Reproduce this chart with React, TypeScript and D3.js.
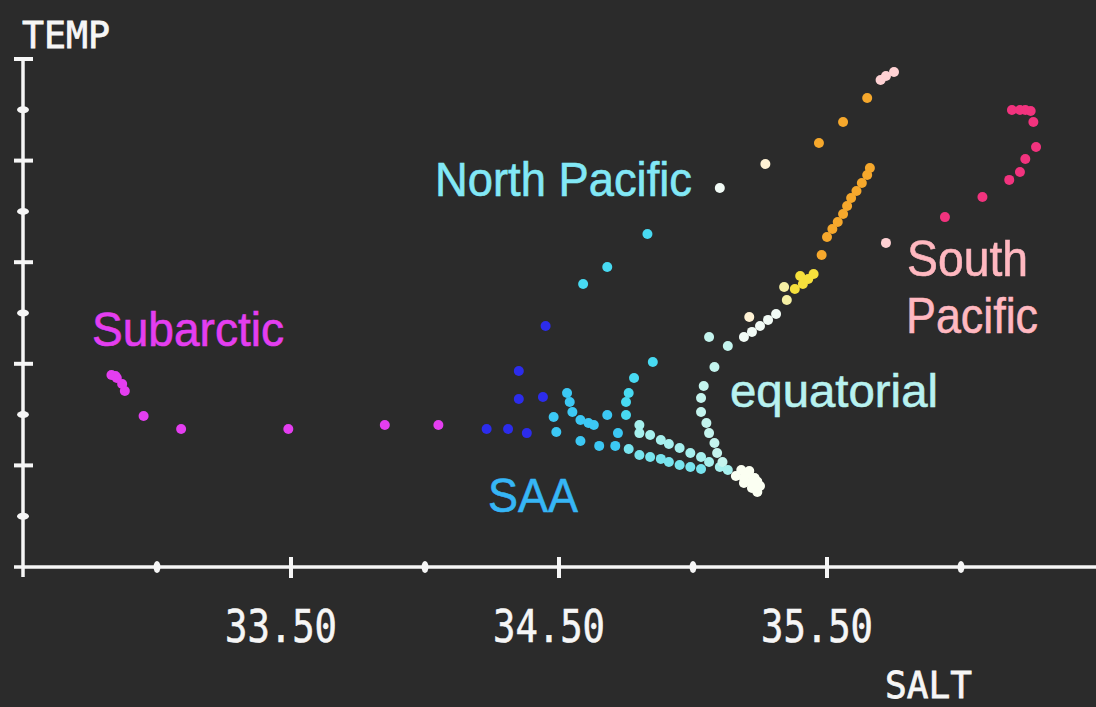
import React from 'react';
import * as d3 from 'd3';

const W = 1096;
const H = 707;

// axis ticks (salinity, temperature)
const saltMajor = [33.5, 34.5, 35.5];
const saltMinor = [33.0, 34.0, 35.0, 36.0];
const saltLabels = ['33.50', '34.50', '35.50'];
const tempMajor = [5, 10, 15, 20, 25];
const tempMinor = [2.5, 7.5, 12.5, 17.5, 22.5];

type P = [number, number]; // [salt, temp]

const subarctic: P[] = [
  [32.83, 9.45], [32.845, 9.4], [32.85, 9.3], [32.87, 9.01], [32.88, 8.66], [32.95, 7.43],
  [33.09, 6.79], [33.49, 6.79], [33.85, 6.99], [34.05, 6.99],
];
const deepBlue: P[] = [
  [34.23, 6.79], [34.31, 6.79], [34.38, 6.59], [34.35, 8.27], [34.44, 8.37],
  [34.35, 9.65], [34.45, 11.86],
];
const saa: P[] = [
  [34.48, 7.38], [34.49, 6.64], [34.53, 8.56], [34.54, 8.12], [34.55, 7.63],
  [34.58, 7.23], [34.61, 7.09], [34.63, 6.99], [34.68, 7.48], [34.58, 6.2],
  [34.65, 5.96], [34.71, 5.96], [34.72, 6.59],
];
const northPacific: P[] = [
  [34.75, 7.48], [34.75, 8.12], [34.76, 8.56], [34.78, 9.3], [34.85, 10.09],
  [34.59, 13.93], [34.68, 14.76], [34.83, 16.39],
];
const lowerPath: P[] = [
  [34.76, 5.81], [34.8, 5.51], [34.84, 5.41], [34.88, 5.32], [34.91, 5.17],
  [34.95, 5.02], [34.99, 4.92], [35.03, 4.82],
];
const brightPath: P[] = [
  [34.8, 6.99], [34.8, 6.59], [34.84, 6.5], [34.88, 6.25], [34.91, 6.05],
  [34.95, 5.86], [34.99, 5.61], [35.03, 5.41], [35.06, 5.17], [35.1, 4.92],
  [35.13, 4.77],
];
const equatorial: P[] = [
  [35.06, 11.32], [35.13, 10.88], [35.08, 9.84], [35.04, 8.91], [35.03, 8.32],
  [35.03, 7.63], [35.05, 7.09], [35.06, 6.59], [35.08, 6.1], [35.09, 5.61],
  [35.11, 5.17],
];
const deepCore: P[] = [
  [35.16, 4.48], [35.18, 4.77], [35.21, 4.72], [35.23, 4.38], [35.25, 3.99],
  [35.22, 3.89], [35.19, 4.13], [35.24, 3.69], [35.19, 4.38], [35.22, 4.18],
  [35.2, 4.55], [35.24, 4.2],
];
const whiteUpper: P[] = [
  [35.19, 11.32], [35.22, 11.57], [35.25, 11.86], [35.28, 12.16], [35.31, 12.45],
  [35.1, 18.65],
];
const cream: P[] = [[35.21, 12.3], [35.27, 19.83]];
const paleYellow: P[] = [[35.34, 13.78], [35.35, 13.14]];
const yellow: P[] = [
  [35.4, 14.32], [35.38, 13.68], [35.41, 13.93], [35.43, 14.17], [35.45, 14.42],
];
const orange: P[] = [
  [35.48, 15.35], [35.5, 16.24], [35.52, 16.63], [35.54, 16.98], [35.56, 17.37],
  [35.575, 17.77], [35.59, 18.16], [35.61, 18.5], [35.63, 18.9], [35.65, 19.29],
  [35.66, 19.64], [35.47, 20.87], [35.56, 21.9], [35.65, 23.08],
];
const surfacePale: P[] = [[35.7, 23.97], [35.72, 24.16], [35.75, 24.36], [35.72, 15.95]];
const southPacific: P[] = [
  [36.19, 22.49], [36.22, 22.49], [36.24, 22.49], [36.26, 22.44], [36.27, 21.9],
  [36.28, 20.67], [36.24, 20.08], [36.22, 19.44], [36.18, 19.05], [36.08, 18.21],
  [35.94, 17.22],
];

const groups: { data: P[]; color: string }[] = [
  { data: subarctic, color: '#e43ef0' },
  { data: deepBlue, color: '#2c2cec' },
  { data: saa, color: '#3cc8f4' },
  { data: northPacific, color: '#48daf2' },
  { data: lowerPath, color: '#78e4ee' },
  { data: brightPath, color: '#a6f0ee' },
  { data: equatorial, color: '#c4f4ee' },
  { data: deepCore, color: '#fbfff2' },
  { data: whiteUpper, color: '#f2fbf6' },
  { data: cream, color: '#fff2d4' },
  { data: paleYellow, color: '#f6f0a4' },
  { data: yellow, color: '#f6e03c' },
  { data: orange, color: '#f6a82c' },
  { data: surfacePale, color: '#ffd2d4' },
  { data: southPacific, color: '#f2337e' },
];

const x = d3.scaleLinear().domain([32.5, 36.5]).range([23, 1095]);
const y = d3.scaleLinear().domain([0, 25]).range([567, 59]);

const mono = "'DejaVu Sans Mono', monospace";
const sans = "'Liberation Sans', Arial, sans-serif";
const AX = '#f6f6f6';

export default function App() {
  const x0 = x(32.5);
  const y0 = y(0);
  return (
    <svg
      width={W}
      height={H}
      style={{ position: 'absolute', left: 0, top: 0, background: '#2b2b2b', display: 'block' }}
    >
      <rect x={0} y={0} width={W} height={H} fill="#2b2b2b" />
      {/* axes */}
      <line x1={x0} x2={x0} y1={y(25)} y2={y0 + 10} stroke={AX} strokeWidth={3.5} />
      <line x1={x0 - 9} x2={W} y1={y0} y2={y0} stroke={AX} strokeWidth={3.5} />
      {tempMajor.map((t) => (
        <line key={'tm' + t} x1={x0 - 9} x2={x0 + 10} y1={y(t)} y2={y(t)} stroke={AX} strokeWidth={4} />
      ))}
      {tempMinor.map((t) => (
        <ellipse key={'tn' + t} cx={x0} cy={y(t)} rx={6} ry={3.5} fill={AX} />
      ))}
      {saltMajor.map((s) => (
        <line key={'sm' + s} x1={x(s)} x2={x(s)} y1={y0 - 10} y2={y0 + 11} stroke={AX} strokeWidth={4} />
      ))}
      {saltMinor.map((s) => (
        <ellipse key={'sn' + s} cx={x(s)} cy={y0} rx={3.5} ry={6} fill={AX} />
      ))}
      {saltMajor.map((s, i) => (
        <text
          key={'sl' + s}
          x={x(s) - 66}
          y={642}
          fontFamily={mono}
          fontSize={44}
          fill={AX}
          stroke={AX}
          strokeWidth={0.6}
          textLength={112}
          lengthAdjust="spacingAndGlyphs"
        >
          {saltLabels[i]}
        </text>
      ))}
      <text x={22} y={48} fontFamily={mono} fontSize={38} fill={AX} stroke={AX} strokeWidth={0.8} textLength={88} lengthAdjust="spacingAndGlyphs">
        TEMP
      </text>
      <text x={885} y={698} fontFamily={mono} fontSize={38} fill={AX} stroke={AX} strokeWidth={0.8} textLength={87} lengthAdjust="spacingAndGlyphs">
        SALT
      </text>

      {/* points */}
      {groups.map((g, gi) =>
        g.data.map((p, i) => (
          <circle key={gi + '-' + i} cx={x(p[0])} cy={y(p[1])} r={5} fill={g.color} />
        ))
      )}

      {/* region labels */}
      <text x={435} y={196} fontFamily={sans} fontSize={48} fill="#82e8f6" stroke="#82e8f6" strokeWidth={0.6} textLength={257} lengthAdjust="spacingAndGlyphs">
        North Pacific
      </text>
      <text x={92} y={346} fontFamily={sans} fontSize={48} fill="#e43ef0" stroke="#e43ef0" strokeWidth={0.6} textLength={192} lengthAdjust="spacingAndGlyphs">
        Subarctic
      </text>
      <text x={488} y={512} fontFamily={sans} fontSize={48} fill="#36b6f6" stroke="#36b6f6" strokeWidth={0.6} textLength={90} lengthAdjust="spacingAndGlyphs">
        SAA
      </text>
      <text x={730} y={407} fontFamily={sans} fontSize={46} fill="#b8f2f0" stroke="#b8f2f0" strokeWidth={0.6} textLength={208} lengthAdjust="spacingAndGlyphs">
        equatorial
      </text>
      <text x={907} y={276} fontFamily={sans} fontSize={50} fill="#ffb8c0" stroke="#ffb8c0" strokeWidth={0.6} textLength={121} lengthAdjust="spacingAndGlyphs">
        South
      </text>
      <text x={906} y={333} fontFamily={sans} fontSize={50} fill="#ffb8c0" stroke="#ffb8c0" strokeWidth={0.6} textLength={132} lengthAdjust="spacingAndGlyphs">
        Pacific
      </text>
    </svg>
  );
}
